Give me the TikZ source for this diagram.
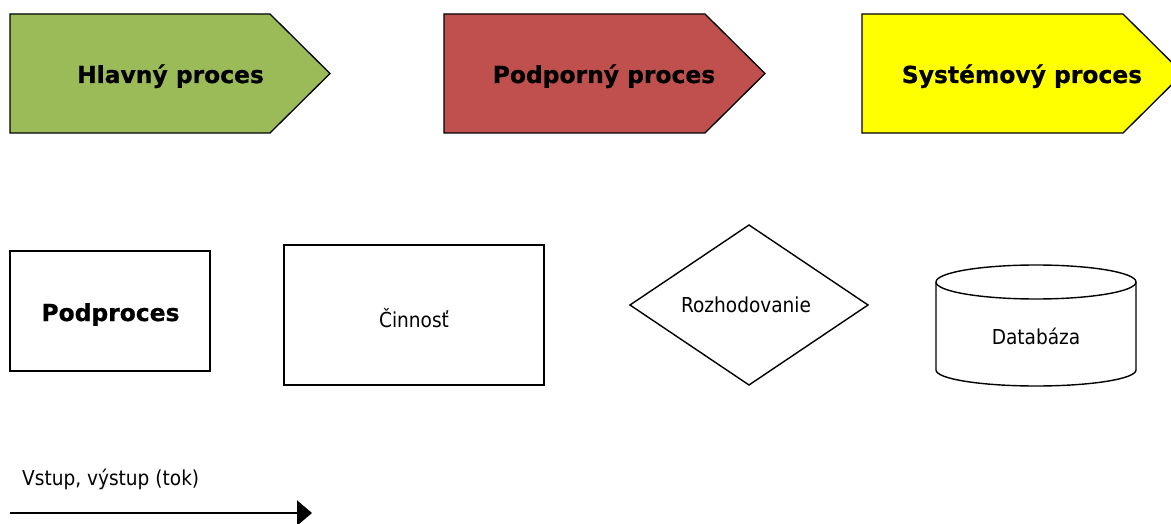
\documentclass[tikz,border=0pt]{standalone}
\usepackage{fontspec}
\setmainfont{DejaVu Sans}
\newfontfamily\tah[FakeStretch=0.9]{DejaVu Sans}
\newfontfamily\vbold[FakeBold=0.6]{DejaVu Sans Bold}
\usetikzlibrary{arrows.meta}
\definecolor{hlgreen}{HTML}{9BBB59}
\definecolor{podred}{HTML}{C0504D}
\definecolor{sysyellow}{HTML}{FFFF00}
\tikzset{
  procshape/.style={draw=black, line width=1.3pt, line join=miter},
  plainshape/.style={draw=black, line width=1.4pt, fill=white},
  btext/.style={font=\vbold\fontsize{23.4}{28}\selectfont, inner sep=0pt, anchor=base},
  rtext/.style={font=\tah\fontsize{20.6}{25}\selectfont, inner sep=0pt, anchor=base},
  flow/.style={line width=2pt, -{Triangle[length=15pt,width=25pt]}}
}
\begin{document}
\begin{tikzpicture}[x=1pt,y=-1pt]
\useasboundingbox (0,0) rectangle (1171,524);
% process shapes
\draw[procshape, fill=hlgreen] (10,14) -- (270,14) -- (330,73.5) -- (270,133) -- (10,133) -- cycle;
\draw[procshape, fill=podred] (444,14) -- (705,14) -- (765,73.5) -- (705,133) -- (444,133) -- cycle;
\draw[procshape, fill=sysyellow] (862,14) -- (1123,14) -- (1183,73.5) -- (1123,133) -- (862,133) -- cycle;
\node[btext] (hlavny) at (170.5,83) {Hlavný proces};
\node[btext] (podporny) at (604,83) {Podporný proces};
\node[btext] (systemovy) at (1022,83) {Systémový proces};
% subprocess
\node[plainshape, minimum width=200pt, minimum height=120pt, inner sep=0pt] (podproces) at (110,311) {};
\node[btext] (podprocesT) at (110.5,321) {Podproces};
% activity
\node[plainshape, minimum width=260pt, minimum height=140pt, inner sep=0pt] (cinnost) at (414,315) {};
\node[rtext] (cinnostT) at (414,327) {Činnosť};
% decision
\draw[plainshape] (749,225) -- (868,305) -- (749,385) -- (630,305) -- cycle;
\node[rtext] (rozhod) at (746,312) {Rozhodovanie};
% database
\draw[plainshape] (936,282) -- (936,370) arc[start angle=180, end angle=0, x radius=100, y radius=16] -- (1136,282);
\draw[plainshape] (1036,282) ellipse[x radius=100, y radius=17];
\node[rtext] (databaza) at (1036,344) {Databáza};
% flow
\node[rtext, anchor=base west] (vstup) at (22,485) {Vstup, výstup (tok)};
\coordinate (fstart) at (10,513);
\coordinate (fend) at (312,513);
\draw[flow] (fstart) -- (fend);
\end{tikzpicture}
\end{document}
